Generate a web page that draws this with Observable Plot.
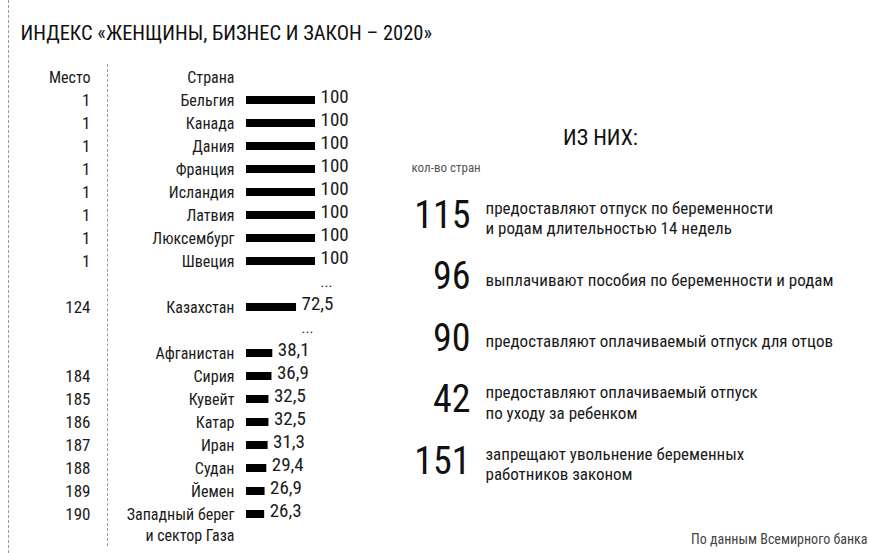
<!DOCTYPE html>
<html>
<head>
<meta charset="utf-8">
<script src="https://cdn.jsdelivr.net/npm/d3@7"></script>
<script src="https://cdn.jsdelivr.net/npm/@observablehq/plot@0.6"></script>
<style>
  html, body { margin: 0; padding: 0; background: #fff; }
  #wrap { position: relative; width: 869px; height: 553px; overflow: hidden;
          font-family: "Roboto Condensed", sans-serif; }
  #wrap svg { position: absolute; left: 0; top: 0; }
  .vline { position: absolute; border-left: 1px dashed #9a9a9a; width: 0; }
</style>
</head>
<body>
<div id="wrap">
  <div class="vline" style="left:8px; top:0; height:553px;"></div>
  <div class="vline" style="left:107px; top:64px; height:482px;"></div>
</div>
<script>
// ---- data ----
const title = "ИНДЕКС «ЖЕНЩИНЫ, БИЗНЕС И ЗАКОН – 2020»";
const headRank = "Место";
const headCountry = "Страна";
const countries = ["Бельгия", "Канада", "Дания", "Франция", "Исландия", "Латвия", "Люксембург", "Швеция",
  "Казахстан", "Афганистан", "Сирия", "Кувейт", "Катар", "Иран", "Судан", "Йемен", "Западный берег\nи сектор Газа"];
const ranks = ["1", "1", "1", "1", "1", "1", "1", "1", "124", "", "184", "185", "186", "187", "188", "189", "190"];
const scores = [100, 100, 100, 100, 100, 100, 100, 100, 72.5, 38.1, 36.9, 32.5, 32.5, 31.3, 29.4, 26.9, 26.3];
const gapsAfter = ["Швеция", "Казахстан"];

const panelTitle = "ИЗ НИХ:";
const panelUnit = "кол-во стран";
const counts = [115, 96, 90, 42, 151];
const measures = [
  "предоставляют отпуск по беременности\nи родам длительностью 14 недель",
  "выплачивают пособия по беременности и родам",
  "предоставляют оплачиваемый отпуск для отцов",
  "предоставляют оплачиваемый отпуск\nпо уходу за ребенком",
  "запрещают увольнение беременных\nработников законом"
];
const source = "По данным Всемирного банка";

// ---- build tables ----
const rows = countries.map((c, i) => ({key: c, country: c, rank: ranks[i], score: scores[i]}));
const order = ["__head"];
const gaps = [];
rows.forEach((r) => {
  order.push(r.key);
  if (gapsAfter.includes(r.key)) {
    const k = "__gap" + gaps.length;
    order.push(k);
    gaps.push({key: k, score: r.score});
  }
});
const font = '"Roboto Condensed", sans-serif';
const ink = "#1a1a1a";
const w = 400;
const fmt = v => (Number.isInteger(v) ? String(v) : String(v).replace(".", ","));

const left = Plot.plot({
  width: 869, height: 553, margin: 0,
  style: {fontFamily: font, background: "transparent", color: ink},
  x: {domain: [0, 100], range: [246, 315], axis: null},
  y: {type: "band", domain: order, range: [65, 526.2], paddingInner: 0.64, paddingOuter: 0.32, axis: null},
  marks: [
    Plot.text([title], {frameAnchor: "top-left", dx: 20, dy: 33, lineAnchor: "middle", fontSize: 20.5, fontWeight: w, fill: "#111", text: d => d}),
    Plot.text([{y: "__head", t: headRank}], {y: "y", text: "t", frameAnchor: "left", dx: 90, textAnchor: "end", fontSize: 16, fontWeight: w, fill: ink}),
    Plot.text([{y: "__head", t: headCountry}], {y: "y", text: "t", frameAnchor: "left", dx: 234, textAnchor: "end", fontSize: 16, fontWeight: w, fill: ink}),
    Plot.text(rows, {y: "key", text: "rank", frameAnchor: "left", dx: 90, textAnchor: "end", fontSize: 17, fontWeight: w, fill: ink}),
    Plot.text(rows, {y: "key", text: "country", frameAnchor: "left", dx: 234, textAnchor: "end", lineAnchor: "top", dy: -9, lineHeight: 1.3, fontSize: 16, fontWeight: w, fill: ink}),
    Plot.barX(rows, {x: "score", y: "key", fill: "#000"}),
    Plot.text(rows, {x: "score", y: "key", text: d => fmt(d.score), textAnchor: "start", dx: 5, dy: -4, fontSize: 19, fontWeight: w, fill: ink}),
    Plot.text(gaps, {x: "score", y: "key", text: () => "...", textAnchor: "start", dx: 5, dy: -2, fontSize: 15, fontWeight: w, fill: ink})
  ]
});

const right = Plot.plot({
  width: 869, height: 553, margin: 0,
  style: {fontFamily: font, background: "transparent", color: ink},
  x: {axis: null},
  y: {domain: [0, counts.length - 1], range: [215, 461], axis: null},
  marks: [
    Plot.text([panelTitle], {frameAnchor: "top-left", dx: 600, dy: 137, textAnchor: "middle", lineAnchor: "middle", fontSize: 22, fontWeight: w, fill: "#111", text: d => d}),
    Plot.text([panelUnit], {frameAnchor: "top-left", dx: 411, dy: 167, textAnchor: "start", lineAnchor: "middle", fontSize: 13, fontWeight: w, fill: "#555", text: d => d}),
    Plot.text(counts, {y: (d, i) => i, text: d => String(d), frameAnchor: "left", dx: 470, textAnchor: "end", fontSize: 38, fontWeight: w, fill: "#111"}),
    Plot.text(measures, {y: (d, i) => i, text: d => d, frameAnchor: "left", dx: 485, dy: 2, textAnchor: "start", lineHeight: 1.2, fontSize: 17, fontWeight: w, fill: ink}),
    Plot.text([source], {frameAnchor: "bottom-right", dx: -2, dy: -10, textAnchor: "end", lineAnchor: "bottom", fontSize: 14, fontWeight: w, fill: "#444", text: d => d})
  ]
});

const wrap = document.getElementById("wrap");
wrap.appendChild(left);
wrap.appendChild(right);
</script>
</body>
</html>
